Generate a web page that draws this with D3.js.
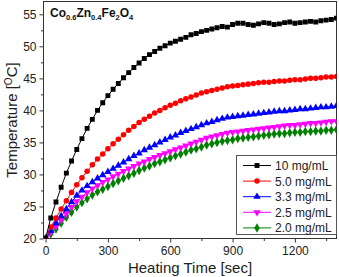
<!DOCTYPE html>
<html>
  <head>
    <meta charset="UTF-8">
    <style>
      body {
        margin: 0;
        font-family: Arial, "Liberation Sans", Helvetica, sans-serif;
        background: #fff;
      }

      .x-axis text,
      .y-axis text {
        font-size: 12px;
        fill: #222;
      }

      .legend text {
        font-size: 12px;
        fill: #222;
      }
    </style>
    <script src="https://d3js.org/d3.v7.min.js"></script>
  </head>

  <body>
    <svg id="chart"></svg>

    <script type="text/javascript">
      // heating time, sec (one reading every 25 s)
      const times = [
        0, 25, 50, 75, 100, 125, 150, 175, 200, 225, 250, 275, 300, 325, 350, 375, 400, 425, 450, 475,
        500, 525, 550, 575, 600, 625, 650, 675, 700, 725, 750, 775, 800, 825, 850, 875, 900, 925, 950, 975,
        1000, 1025, 1050, 1075, 1100, 1125, 1150, 1175, 1200, 1225, 1250, 1275, 1300, 1325, 1350, 1375, 1400
      ]

      const temp10 = [
        20.0, 23.2, 25.7, 28.0, 30.2, 32.1, 33.9, 35.6, 37.2, 38.6, 40.0, 41.2, 42.3, 43.3, 44.2, 45.1, 45.9, 46.7, 47.4, 48.1,
        48.7, 49.2, 49.7, 50.1, 50.5, 50.8, 51.1, 51.4, 51.8, 52.0, 52.3, 52.5, 52.7, 52.9, 53.1, 53.0, 53.4, 53.6, 53.6, 53.4,
        53.3, 53.5, 53.7, 53.6, 53.4, 53.5, 53.7, 53.8, 53.6, 53.7, 53.8, 53.9, 53.8, 54.0, 54.1, 54.2, 54.4
      ]
      const temp50 = [
        20.0, 21.8, 23.2, 24.6, 25.9, 27.2, 28.4, 29.5, 30.5, 31.5, 32.4, 33.2, 34.0, 34.8, 35.5, 36.2, 36.9, 37.5, 38.1, 38.6,
        39.1, 39.6, 40.0, 40.4, 40.8, 41.1, 41.5, 41.8, 42.1, 42.4, 42.7, 42.9, 43.1, 43.3, 43.5, 43.7, 43.8, 43.9, 44.0, 44.1,
        44.2, 44.3, 44.4, 44.4, 44.5, 44.6, 44.6, 44.7, 44.8, 44.8, 44.9, 45.0, 45.0, 45.1, 45.2, 45.2, 45.3
      ]
      const temp33 = [
        20.0, 21.2, 22.4, 23.5, 24.6, 25.7, 26.7, 27.5, 28.2, 28.8, 29.4, 29.9, 30.4, 30.9, 31.4, 31.9, 32.4, 32.9, 33.3, 33.8,
        34.2, 34.6, 35.0, 35.4, 35.8, 36.1, 36.5, 36.8, 37.1, 37.4, 37.7, 38.0, 38.2, 38.5, 38.7, 38.9, 39.0, 39.1, 39.2, 39.3,
        39.4, 39.5, 39.6, 39.7, 39.8, 39.9, 39.9, 40.0, 40.1, 40.2, 40.2, 40.3, 40.4, 40.5, 40.5, 40.6, 40.7
      ]
      const temp25 = [
        20.0, 21.0, 21.9, 22.9, 23.9, 24.9, 25.8, 26.5, 27.2, 27.8, 28.3, 28.8, 29.2, 29.7, 30.1, 30.5, 30.9, 31.3, 31.7, 32.0,
        32.4, 32.7, 33.0, 33.3, 33.6, 33.9, 34.2, 34.5, 34.8, 35.1, 35.4, 35.7, 35.9, 36.1, 36.3, 36.5, 36.6, 36.7, 36.8, 36.9,
        37.0, 37.1, 37.2, 37.3, 37.4, 37.5, 37.6, 37.7, 37.7, 37.8, 37.9, 38.0, 38.0, 38.1, 38.2, 38.3, 38.3
      ]
      const temp20 = [
        20.0, 20.7, 21.5, 22.4, 23.3, 24.1, 24.9, 25.6, 26.2, 26.8, 27.3, 27.7, 28.1, 28.6, 29.0, 29.4, 29.8, 30.2, 30.6, 31.0,
        31.3, 31.7, 32.0, 32.3, 32.6, 32.9, 33.2, 33.5, 33.8, 34.0, 34.3, 34.6, 34.8, 35.0, 35.2, 35.3, 35.4, 35.6, 35.7, 35.8,
        35.9, 36.0, 36.1, 36.2, 36.3, 36.4, 36.4, 36.5, 36.6, 36.6, 36.7, 36.7, 36.8, 36.8, 36.9, 36.9, 37.0
      ]

      const seriesNames = ['10 mg/mL', '5.0 mg/mL', '3.3 mg/mL', '2.5 mg/mL', '2.0 mg/mL']
      const seriesValues = [temp10, temp50, temp33, temp25, temp20]

      const xTicks = [0, 300, 600, 900, 1200]
      const yTicks = [20, 25, 30, 35, 40, 45, 50, 55]

      function getChartConfig() {
        let width = 339
        let height = 277
        let margin = { top: 1.5, right: 2.5, bottom: 38.5, left: 43.5 }
        let bodyWidth = width - margin.left - margin.right
        let bodyHeight = height - margin.top - margin.bottom

        let container = d3.select('#chart')
          .attr('width', width)
          .attr('height', height)

        return { width, height, margin, bodyWidth, bodyHeight, container }
      }

      function getScales(config) {
        let x = d3.scaleLinear()
          .domain([-10, 1400])
          .range([config.margin.left, config.margin.left + config.bodyWidth])

        let y = d3.scaleLinear()
          .domain([20, 57])
          .range([config.margin.top + config.bodyHeight, config.margin.top])

        return { x, y }
      }

      function drawAxes(scales, config) {
        let { x, y } = scales
        let g = config.container
        let bottom = config.margin.top + config.bodyHeight
        let left = config.margin.left

        // frame
        g.append('rect')
          .attr('x', left)
          .attr('y', config.margin.top)
          .attr('width', config.bodyWidth)
          .attr('height', config.bodyHeight)
          .attr('fill', 'none')
          .attr('stroke', '#333')
          .attr('stroke-width', 1)

        // minor ticks
        g.append('g')
          .attr('transform', `translate(0, ${bottom})`)
          .call(d3.axisBottom(x).tickValues(d3.range(150, 1400, 300)).tickSize(2.5).tickFormat(''))
          .call(a => a.select('.domain').remove())
          .selectAll('line').attr('stroke', '#333')

        g.append('g')
          .attr('transform', `translate(${left}, 0)`)
          .call(d3.axisLeft(y).tickValues(d3.range(22.5, 57, 5)).tickSize(2.5).tickFormat(''))
          .call(a => a.select('.domain').remove())
          .selectAll('line').attr('stroke', '#333')

        g.append('g')
          .attr('class', 'x-axis')
          .attr('transform', `translate(0, ${bottom})`)
          .call(d3.axisBottom(x).tickValues(xTicks).tickSize(4).tickPadding(4).tickFormat(d3.format('d')))
          .call(a => a.selectAll('line').attr('stroke', '#333'))
          .call(a => a.select('.domain').remove())

        g.append('g')
          .attr('class', 'y-axis')
          .attr('transform', `translate(${left}, 0)`)
          .call(d3.axisLeft(y).tickValues(yTicks).tickSize(4).tickPadding(3))
          .call(a => a.selectAll('line').attr('stroke', '#333'))
          .call(a => a.select('.domain').remove())

        g.append('text')
          .attr('x', left + config.bodyWidth / 2)
          .attr('y', 273)
          .attr('text-anchor', 'middle')
          .style('font-size', '15px')
          .style('fill', '#222')
          .text('Heating Time [sec]')

        let yl = g.append('text')
          .attr('transform', `translate(17, ${config.margin.top + config.bodyHeight / 2}) rotate(-90)`)
          .attr('text-anchor', 'middle')
          .style('font-size', '15px')
          .style('fill', '#222')
        yl.append('tspan').text('Temperature [')
        yl.append('tspan').attr('dy', -5).style('font-size', '10px').text('O')
        yl.append('tspan').attr('dy', 5).text('C]')

        // sample formula
        let title = g.append('text')
          .attr('x', 50)
          .attr('y', 17)
          .style('font-size', '12px')
          .style('font-weight', 'bold')
          .style('fill', '#111')
        let parts = [['Co', ''], ['0.6', 's'], ['Zn', ''], ['0.4', 's'], ['Fe', ''], ['2', 's'], ['O', ''], ['4', 's']]
        let shift = 0
        parts.forEach(p => {
          let dy = p[1] === 's' ? 3 - shift : -shift
          shift = p[1] === 's' ? 3 : 0
          title.append('tspan')
            .attr('dy', dy)
            .style('font-size', p[1] === 's' ? '7.5px' : '12px')
            .text(p[0])
        })
      }

      const colors = ['#000000', '#ff0000', '#0000ff', '#ff00ff', '#008000']
      const symbols = [
        d3.symbol().type(d3.symbolSquare).size(24),
        d3.symbol().type(d3.symbolCircle).size(24),
        d3.symbol().type(d3.symbolTriangle).size(24),
        d3.symbol().type(d3.symbolTriangle).size(24),
        d3.symbol().type(d3.symbolDiamond).size(26)
      ]

      function drawChart(scales, config) {
        let { x, y } = scales

        let clip = config.container.append('defs').append('clipPath').attr('id', 'plot-clip')
        clip.append('rect')
          .attr('x', config.margin.left)
          .attr('y', config.margin.top)
          .attr('width', config.bodyWidth)
          .attr('height', config.bodyHeight)

        let plot = config.container.append('g').attr('clip-path', 'url(#plot-clip)')

        let line = d3.line()
          .x((d, i) => x(times[i]))
          .y(d => y(d))

        // draw from the lowest curve up, like the original
        d3.range(seriesValues.length).reverse().forEach(s => {
          let g = plot.append('g').attr('class', 'series')
          g.append('path')
            .attr('d', line(seriesValues[s]))
            .attr('fill', 'none')
            .attr('stroke', colors[s])
            .attr('stroke-width', 1)

          g.selectAll('path.pt')
            .data(seriesValues[s])
            .enter()
            .append('path')
            .attr('class', 'pt')
            .attr('d', symbols[s])
            .attr('fill', colors[s])
            .attr('transform', (d, i) => `translate(${x(times[i])}, ${y(d)})${s === 3 ? ' rotate(180)' : ''}`)
        })
      }

      function drawLegend(config) {
        let lg = config.container.append('g').attr('class', 'legend')

        lg.append('rect')
          .attr('x', 236.5)
          .attr('y', 155.5)
          .attr('width', 100)
          .attr('height', 79)
          .attr('fill', '#fff')
          .attr('stroke', '#555')
          .attr('stroke-width', 1)

        seriesNames.forEach((name, s) => {
          let cy = 165.5 + s * 15.6
          lg.append('line')
            .attr('x1', 243).attr('x2', 271)
            .attr('y1', cy).attr('y2', cy)
            .attr('stroke', colors[s])
            .attr('stroke-width', 1)
          lg.append('path')
            .attr('d', symbols[s])
            .attr('fill', colors[s])
            .attr('transform', `translate(257, ${cy})${s === 3 ? ' rotate(180)' : ''}`)
          lg.append('text')
            .attr('x', 275)
            .attr('y', cy + 4.5)
            .text(name)
        })
      }

      let config = getChartConfig()
      let scales = getScales(config)
      drawAxes(scales, config)
      drawChart(scales, config)
      drawLegend(config)
    </script>
  </body>
</html>
